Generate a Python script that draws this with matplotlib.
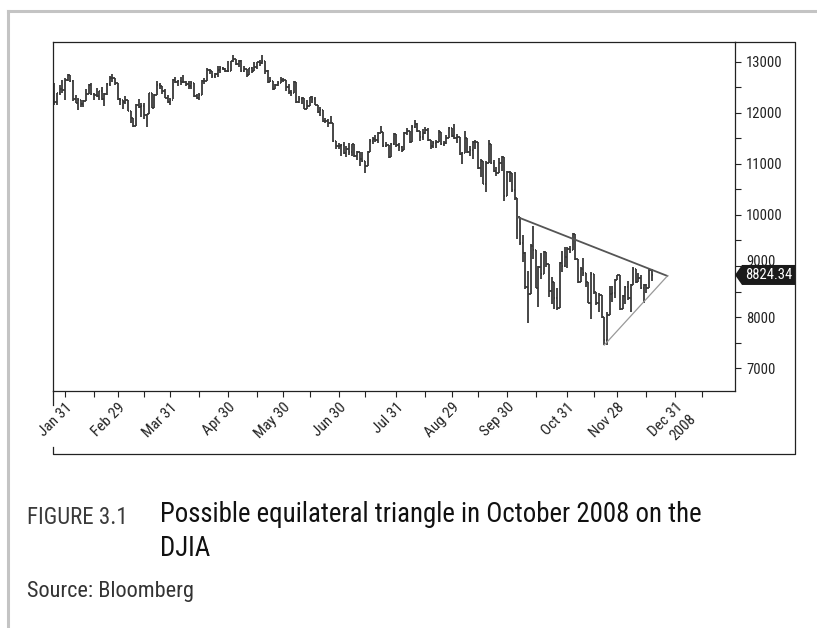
import matplotlib
matplotlib.use('Agg')
import matplotlib.pyplot as plt
from matplotlib.collections import LineCollection
from matplotlib.lines import Line2D
from matplotlib.patches import Polygon
import matplotlib.transforms as mtransforms
import pandas as pd

plt.rcParams['font.family'] = ['Roboto Condensed', 'DejaVu Sans']

# DJIA daily bars, 25 Jan 2008 - 17 Dec 2008
prev_close = 12378.61
closes = [
    12207, 12384, 12480, 12443, 12650,
    12743, 12635, 12265, 12200, 12247, 12182, 12240, 12373, 12552, 12377,
    12348, 12337, 12427, 12284, 12381, 12570, 12685, 12694, 12582, 12266,
    12259, 12214, 12255, 12040, 11894, 11740, 12157, 12110, 12146, 11951,
    11972, 12393, 12100, 12361, 12549, 12533, 12423, 12302, 12216, 12263,
    12654, 12609, 12626, 12609, 12612, 12576, 12527, 12582, 12325, 12302, 12362,
    12619, 12620, 12849, 12825, 12720, 12763, 12849, 12892, 12872, 12831, 12820,
    13010, 13058, 12970, 13021, 12814, 12867, 12746, 12876, 12832, 12898, 12993,
    12987, 13028, 12829, 12601, 12626, 12480, 12548, 12594, 12646, 12638,
    12504, 12403, 12390, 12604, 12210, 12280, 12290, 12084, 12142, 12307, 12269,
    12160, 12029, 12063, 11843, 11842, 11807, 11812, 11453, 11347, 11350,
    11382, 11216, 11289, 11232, 11384, 11147, 11229, 11101, 11055, 10963, 11239,
    11447, 11497, 11467, 11603, 11632, 11349, 11371, 11131, 11398, 11584, 11378,
    11326, 11284, 11616, 11656, 11431, 11734, 11782, 11642, 11533, 11616, 11660,
    11479, 11349, 11417, 11430, 11628, 11386, 11413, 11503, 11715, 11544,
    11517, 11533, 11188, 11221, 11511, 11231, 11269, 11434, 11422, 10918, 11059,
    10610, 11020, 11388, 11016, 10854, 10825, 11022, 11143, 10365, 10851,
    10831, 10483, 10325, 9956, 9447, 9258, 8579, 8451, 9388, 9311, 8578, 8979,
    8852, 9265, 9034, 8519, 8691, 8379, 8176, 9065, 8991, 9181, 9325,
    9320, 9625, 9139, 8696, 8944, 8871, 8694, 8283, 8835, 8497, 8274, 8425,
    7997, 7552, 8046, 8443, 8479, 8727, 8829,
    8149, 8419, 8592, 8376, 8635, 8934, 8691, 8761, 8565, 8630, 8565, 8924, 8824.34,
]
highs = [
    12590, 12400, 12555, 12650, 12680,
    12770, 12750, 12640, 12360, 12300, 12260, 12260, 12480, 12570, 12580,
    12390, 12490, 12440, 12500, 12390, 12590, 12720, 12760, 12694, 12582,
    12300, 12260, 12340, 12255, 12040, 11910, 12170, 12270, 12200, 12200,
    11990, 12400, 12400, 12370, 12620, 12590, 12533, 12480, 12350, 12300,
    12660, 12710, 12650, 12700, 12740, 12620, 12620, 12630, 12582, 12380, 12400,
    12640, 12680, 12880, 12860, 12825, 12790, 12930, 12920, 12910, 12880, 13010,
    13020, 13140, 13058, 13040, 13030, 12920, 12867, 12890, 12900, 13000, 13000,
    13030, 13140, 13028, 12850, 12700, 12626, 12570, 12630, 12700, 12690,
    12638, 12560, 12460, 12620, 12604, 12330, 12310, 12300, 12260, 12320, 12340,
    12320, 12160, 12110, 12063, 11900, 11890, 11940, 11812, 11460, 11410,
    11390, 11430, 11360, 11410, 11400, 11400, 11260, 11229, 11240, 11060, 11250,
    11490, 11530, 11560, 11630, 11750, 11632, 11440, 11371, 11420, 11600, 11584,
    11420, 11350, 11630, 11700, 11656, 11760, 11870, 11800, 11650, 11680, 11720,
    11700, 11479, 11460, 11470, 11660, 11628, 11460, 11560, 11730, 11715,
    11790, 11580, 11533, 11240, 11650, 11511, 11350, 11450, 11480, 11422, 11100,
    11059, 11050, 11480, 11388, 11080, 10950, 11120, 11160, 11143, 10870,
    10860, 10831, 10840, 10325, 9960, 9600, 9280, 8900, 9427, 9794, 9311, 9000,
    9260, 9290, 9265, 9034, 8790, 8691, 8560, 9070, 9300, 9380, 9370,
    9400, 9654, 9625, 9140, 8990, 9150, 8871, 8694, 8880, 8835, 8497, 8480,
    8425, 7997, 8100, 8600, 8600, 8740, 8830,
    8829, 8430, 8610, 8700, 8650, 8990, 8950, 8860, 8830, 8640, 8650, 8940, 8940,
]
lows = [
    12150, 12150, 12360, 12390, 12250,
    12620, 12610, 12240, 12190, 12050, 12120, 12120, 12240, 12370, 12360,
    12250, 12310, 12250, 12260, 12130, 12350, 12530, 12600, 12540, 12250,
    12160, 12070, 12180, 12030, 11800, 11730, 11740, 12100, 11930, 11880,
    11730, 11975, 12090, 12090, 12360, 12480, 12370, 12290, 12200, 12160,
    12265, 12580, 12530, 12550, 12590, 12530, 12480, 12480, 12310, 12270, 12260,
    12362, 12570, 12620, 12760, 12680, 12680, 12700, 12780, 12850, 12800, 12800,
    12820, 13000, 12950, 12900, 12800, 12810, 12700, 12740, 12780, 12830, 12860,
    12930, 12970, 12760, 12580, 12600, 12460, 12470, 12530, 12590, 12600,
    12430, 12380, 12330, 12390, 12200, 12190, 12180, 12070, 12080, 12140, 12200,
    12150, 12000, 11940, 11820, 11800, 11730, 11800, 11440, 11300, 11300,
    11150, 11200, 11140, 11170, 11150, 11140, 11080, 10960, 11040, 10830, 10960,
    11230, 11400, 11430, 11420, 11600, 11340, 11340, 11120, 11131, 11380, 11340,
    11260, 11240, 11284, 11570, 11410, 11431, 11700, 11620, 11460, 11480, 11590,
    11460, 11300, 11320, 11310, 11430, 11370, 11360, 11400, 11503, 11530,
    11490, 11420, 11180, 11000, 11221, 11220, 11160, 11100, 11300, 10900, 10740,
    10600, 10460, 11020, 11000, 10840, 10760, 10825, 10860, 10270, 10365,
    10650, 10450, 10300, 9525, 9420, 9080, 8540, 7882, 8451, 9140, 8560, 8200,
    8740, 8850, 8990, 8400, 8250, 8150, 8140, 8170, 8880, 8990, 8960,
    9250, 9320, 9110, 8670, 8696, 8800, 8580, 8270, 7966, 8460, 8230, 8100,
    7990, 7450, 7449, 8046, 8300, 8380, 8726,
    8141, 8149, 8250, 8330, 8090, 8635, 8670, 8690, 8540, 8270, 8470, 8560, 8700,
]

holidays = ['2008-02-18', '2008-03-21', '2008-05-26', '2008-07-04', '2008-09-01',
            '2008-11-27', '2008-12-25', '2009-01-01', '2009-01-19']
tick_dates = ['2008-01-31', '2008-02-29', '2008-03-31', '2008-04-30', '2008-05-30',
              '2008-06-30', '2008-07-31', '2008-08-29', '2008-09-30', '2008-10-31',
              '2008-11-28', '2008-12-31']
tick_labels = ['Jan 31', 'Feb 29', 'Mar 31', 'Apr 30', 'May 30', 'Jun 30', 'Jul 31',
               'Aug 29', 'Sep 30', 'Oct 31', 'Nov 28', 'Dec 31']
minor_dates = ['2008-02-15', '2008-03-14', '2008-04-15', '2008-05-15', '2008-06-13',
               '2008-07-15', '2008-08-15', '2008-09-15', '2008-10-15', '2008-11-14',
               '2008-12-15', '2009-01-15']

# triangle sides (date, level)
upper_dates = ['2008-10-06', '2008-12-26']
upper_vals = [9960, 8805]
lower_dates = ['2008-11-20', '2008-12-26']
lower_vals = [7450, 8805]
last_price = 8824.34

W, H = 817, 628
fig = plt.figure(figsize=(W / 100, H / 100), dpi=100)
fig.patch.set_facecolor('white')
ink = '#222222'


def fig_line(xs, ys, **kw):
    fx = [x / W for x in xs]
    fy = [1 - y / H for y in ys]
    fig.add_artist(Line2D(fx, fy, transform=fig.transFigure, **kw))


# page rules and outer frame
fig_line([8, 817], [11, 11], color='#c4c4c4', lw=2.2)
fig_line([8, 8], [11, 628], color='#c4c4c4', lw=2.2)
fig_line([735, 795, 795, 53, 53], [42, 42, 454, 454, 447], color=ink, lw=0.9)
fig_line([53, 53], [391, 405], color=ink, lw=0.9)

ax = fig.add_axes([53 / W, 1 - 390.7 / H, 682 / W, 348.7 / H])

days = pd.bdate_range('2008-01-25', '2009-02-27', freq='C', holidays=holidays)
pos = {d.strftime('%Y-%m-%d'): i for i, d in enumerate(days)}

opens = [prev_close] + closes[:-1]
segs = []
for k in range(len(closes)):
    segs.append([(k, lows[k]), (k, highs[k])])
    segs.append([(k - 0.45, opens[k]), (k, opens[k])])
    segs.append([(k, closes[k]), (k + 0.45, closes[k])])
ax.add_collection(LineCollection(segs, colors='#383838', linewidths=1.3))

ax.plot([pos[d] for d in upper_dates], upper_vals, color='#555555', lw=1.3)
ax.plot([pos[d] for d in lower_dates], lower_vals, color='#999999', lw=0.9)

ax.set_xlim(-0.56, 258.7)
ax.set_ylim(6555, 13392)

for s in ax.spines.values():
    s.set_color(ink)
    s.set_linewidth(0.9)

ax.set_xticks([pos[d] for d in tick_dates])
ax.set_xticklabels(tick_labels, rotation=45, ha='right', va='top', rotation_mode='anchor')
ax.set_xticks([pos[d] for d in minor_dates], minor=True)
ax.tick_params(axis='x', which='both', direction='out', length=4, width=0.8,
               colors=ink, labelsize=11, pad=3)

ax.yaxis.tick_right()
ax.set_yticks(range(7000, 13001, 1000))
ax.set_yticks(range(7500, 13001, 1000), minor=True)
ax.tick_params(axis='y', which='both', direction='out', length=4, width=0.8,
               colors=ink, labelsize=10.5, pad=4)
ax.tick_params(axis='y', which='both', left=False, labelleft=False)

# lift the 9000 label clear of the price tag, as in the source
fig.canvas.draw()
for lab in ax.get_yticklabels():
    if lab.get_text() == '9000':
        lab.set_transform(lab.get_transform() +
                          mtransforms.ScaledTranslation(0, 4 / 72, fig.dpi_scale_trans))

# 2008 under the Dec 31 label
ax.annotate('2008', xy=(pos['2008-12-31'], 0), xycoords=('data', 'axes fraction'),
            xytext=(10, -15), textcoords='offset points', rotation=45,
            ha='right', va='top', rotation_mode='anchor', fontsize=11, color=ink)

# last price tag
tr = mtransforms.blended_transform_factory(ax.transAxes, ax.transData)
tag_w = 60 / 682
notch = 7 / 682
hh = 196
tag = Polygon([(1.0, last_price), (1.0 + notch, last_price + hh),
               (1.0 + tag_w, last_price + hh), (1.0 + tag_w, last_price - hh),
               (1.0 + notch, last_price - hh)],
              closed=True, transform=tr, facecolor='#1a1a1a', edgecolor='none',
              clip_on=False, zorder=5)
ax.add_patch(tag)
ax.text(1.0 + (notch + tag_w) / 2, last_price, f'{last_price:.2f}', transform=tr,
        color='white', fontsize=10.5, ha='center', va='center', zorder=6, clip_on=False)

# caption
fig.text(27 / W, 1 - 517 / H, 'FIGURE 3.1', fontsize=16.5, color='#3a3a3a', va='center')
fig.text(160 / W, 1 - 515 / H, 'Possible equilateral triangle in October 2008 on the',
         fontsize=19.4, color='#111111', va='center')
fig.text(160 / W, 1 - 549 / H, 'DJIA', fontsize=19.4, color='#111111', va='center')
fig.text(27 / W, 1 - 591 / H, 'Source: Bloomberg', fontsize=16, color='#333333',
         va='center')

fig.savefig('out.png', dpi=100)
